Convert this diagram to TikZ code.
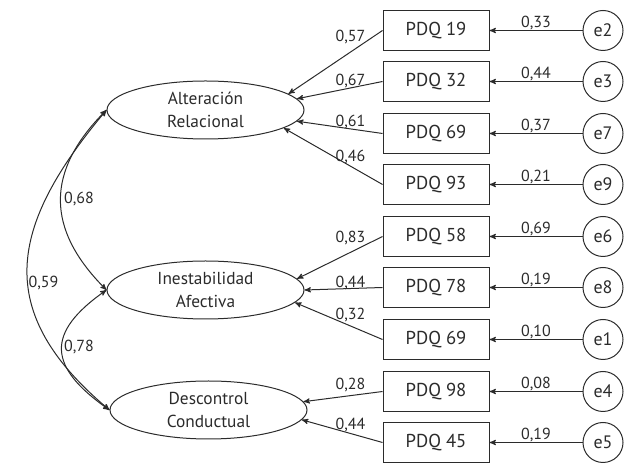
\documentclass[tikz,border=0pt]{standalone}
\usepackage{fontspec}
\setmainfont{PT Sans}
\usetikzlibrary{arrows,shapes,positioning}
\definecolor{ink}{HTML}{2B2B2B}
\tikzset{->}
\tikzset{factor/.style={shape=ellipse, draw, align=center, inner sep=0pt,
    minimum width=147.75pt, minimum height=43.5pt,
    font=\fontsize{13}{17}\selectfont}}
\tikzset{indicator/.style={shape=rectangle, draw, inner sep=0pt,
    minimum width=79.5pt, minimum height=30pt,
    font=\fontsize{14}{16}\selectfont}}
\tikzset{err/.style={shape=circle, draw, inner sep=0pt, minimum size=30pt,
    font=\fontsize{13.5}{15}\selectfont}}
\tikzset{coef/.style={font=\fontsize{12}{14}\selectfont, inner sep=0pt,
    anchor=base}}

\begin{document}
\begin{tikzpicture}[>=stealth', x=.75pt, y=.75pt, ink, line width=.75pt]
    \useasboundingbox (0,0) rectangle (624,463);
    \node[factor] (alt) at (205.5,353) {Alteración\\Relacional};
    \node[factor] (ine) at (205.5,173) {Inestabilidad\\Afectiva};
    \node[factor] (des) at (208.5,53) {Descontrol\\Conductual};
    \node[indicator] (p19) at (436,432.5) {PDQ 19};
    \node[indicator] (p32) at (436,381.5) {PDQ 32};
    \node[indicator] (p69a) at (436,329.5) {PDQ 69};
    \node[indicator] (p93) at (436,278.5) {PDQ 93};
    \node[indicator] (p58) at (436,226.5) {PDQ 58};
    \node[indicator] (p78) at (436,175.5) {PDQ 78};
    \node[indicator] (p69b) at (436,123.5) {PDQ 69};
    \node[indicator] (p98) at (436,71.5) {PDQ 98};
    \node[indicator] (p45) at (436,20.5) {PDQ 45};
    \node[err] (e2) at (603,432.5) {e2};
    \node[err] (e3) at (603,381.5) {e3};
    \node[err] (e7) at (603,329.5) {e7};
    \node[err] (e9) at (603,278.5) {e9};
    \node[err] (e6) at (603,226.5) {e6};
    \node[err] (e8) at (603,175.5) {e8};
    \node[err] (e1) at (603,123.5) {e1};
    \node[err] (e4) at (603,71.5) {e4};
    \node[err] (e5) at (603,20.5) {e5};
    \path (e2.west) edge node[coef, above] (v2) {0,33} (p19.east);
    \path (e3.west) edge node[coef, above] (v3) {0,44} (p32.east);
    \path (e7.west) edge node[coef, above] (v7) {0,37} (p69a.east);
    \path (e9.west) edge node[coef, above] (v9) {0,21} (p93.east);
    \path (e6.west) edge node[coef, above] (v6) {0,69} (p58.east);
    \path (e8.west) edge node[coef, above] (v8) {0,19} (p78.east);
    \path (e1.west) edge node[coef, above] (v1) {0,10} (p69b.east);
    \path (e4.west) edge node[coef, above] (v4) {0,08} (p98.east);
    \path (e5.west) edge node[coef, above] (v5) {0,19} (p45.east);
    \path (p19.west) edge (alt.11);
    \path (p32.west) edge (alt.7);
    \path (p69a.west) edge (alt.-7);
    \path (p93.west) edge (alt.-13);
    \path (p58.west) edge (ine.7);
    \path (p78.west) edge (ine.0);
    \path (p69b.west) edge (ine.-8);
    \path (p98.west) edge (des.5);
    \path (p45.west) edge (des.-6);
    \node[coef] (l19) at (350.5,421) {0,57};
    \node[coef] (l32) at (350.5,377) {0,67};
    \node[coef] (l69a) at (350.5,336) {0,61};
    \node[coef] (l93) at (350.5,301) {0,46};
    \node[coef] (l58) at (350.5,220) {0,83};
    \node[coef] (l78) at (350.5,175) {0,44};
    \node[coef] (l69b) at (350.5,143) {0,32};
    \node[coef] (l98) at (350.5,73) {0,28};
    \node[coef] (l45) at (350.5,33) {0,44};
    \path (alt.west) edge[<->, out=225, in=135, looseness=1.23] (ine.west);
    \path (ine.west) edge[<->, out=215, in=145, looseness=1.6] (des.west);
    \path (alt.west) edge[<->, out=230, in=140, looseness=1.3] (des.west);
    \node[coef] (c68) at (79,259) {0,68};
    \node[coef] (c78) at (79,111) {0,78};
    \node[coef] (c59) at (43.5,175) {0,59};
  \end{tikzpicture}
\end{document}
